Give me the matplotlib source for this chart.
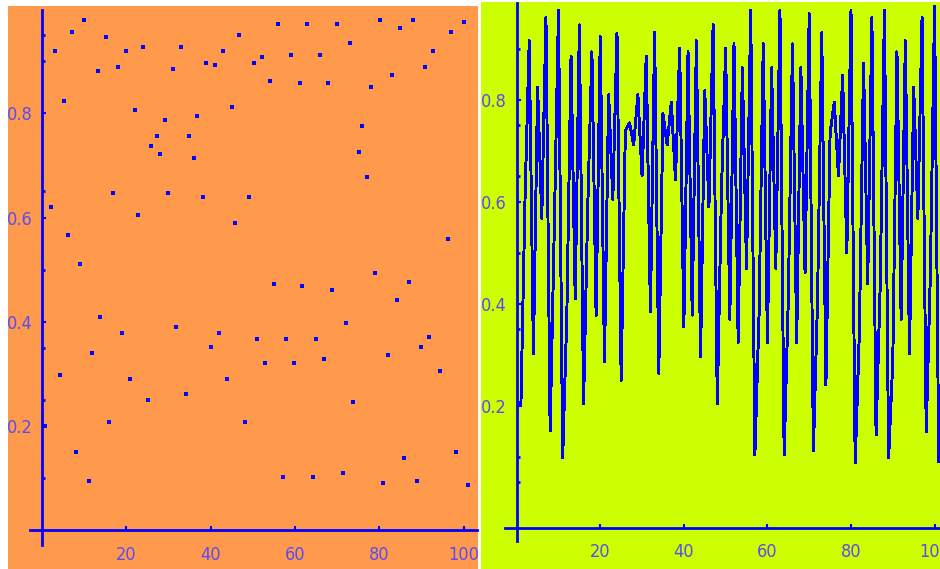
import matplotlib
matplotlib.use('Agg')
import matplotlib.pyplot as plt
from matplotlib.patches import Rectangle

# Datos del panel izquierdo (dispersión)
scatter_x = [9.96, 7.11, 15.18, 46.72, 3.08, 19.92, 23.95, 32.96, 42.92, 38.89,
             41.02, 50.27, 13.28, 18.02, 31.06, 5.22, 22.05, 45.06, 29.17, 36.76,
             27.27, 34.86, 25.85, 27.98, 36.04, 16.84, 29.88, 38.18, 49.09, 2.13,
             22.77, 45.77, 6.17, 9.01, 55.96, 62.84, 69.95, 80.15, 87.98, 100.07,
             84.89, 96.99, 73.04, 52.17, 59.05, 65.92, 92.72, 90.82, 83.0, 54.07,
             61.18, 67.82, 78.02, 75.88, 75.17, 77.07, 96.28, 78.97, 13.75, 18.97,
             31.78, 41.97, 50.98, 40.08, 11.86, 4.27, 20.87, 43.87, 34.15, 25.14,
             15.89, 48.14, 8.06, 11.15, 55.02, 61.66, 68.77, 87.03, 84.18, 72.09,
             57.86, 64.98, 91.77, 89.87, 82.05, 52.88, 59.76, 66.87, 94.38, 73.75,
             98.17, 85.84, 57.15, 64.26, 71.38, 80.86, 88.93, 101.02, 0.8]
scatter_y = [0.979, 0.956, 0.946, 0.950, 0.919, 0.919, 0.927, 0.927, 0.919, 0.896,
             0.893, 0.896, 0.881, 0.889, 0.885, 0.823, 0.806, 0.812, 0.787, 0.795,
             0.756, 0.756, 0.737, 0.722, 0.714, 0.647, 0.647, 0.639, 0.639, 0.620,
             0.605, 0.590, 0.567, 0.511, 0.971, 0.971, 0.971, 0.979, 0.979, 0.975,
             0.964, 0.956, 0.935, 0.908, 0.912, 0.912, 0.919, 0.889, 0.873, 0.862,
             0.858, 0.858, 0.850, 0.776, 0.726, 0.678, 0.559, 0.494, 0.409, 0.379,
             0.390, 0.379, 0.367, 0.352, 0.340, 0.298, 0.291, 0.291, 0.262, 0.250,
             0.208, 0.208, 0.151, 0.095, 0.473, 0.469, 0.461, 0.477, 0.442, 0.398,
             0.367, 0.367, 0.371, 0.352, 0.337, 0.321, 0.321, 0.329, 0.306, 0.246,
             0.151, 0.139, 0.103, 0.103, 0.110, 0.091, 0.095, 0.087, 0.200]

# Datos del panel derecho (línea)
line_x = list(range(1, 102))
line_y = [0.20, 0.61, 0.916, 0.302, 0.825, 0.568, 0.962, 0.151, 0.55, 0.976,
          0.098, 0.38, 0.886, 0.41, 0.947, 0.204, 0.59, 0.894, 0.378, 0.924,
          0.286, 0.81, 0.605, 0.931, 0.25, 0.74, 0.755, 0.712, 0.81, 0.651,
          0.886, 0.385, 0.932, 0.264, 0.773, 0.712, 0.795, 0.643, 0.901, 0.355,
          0.894, 0.378, 0.916, 0.296, 0.818, 0.59, 0.947, 0.204, 0.62, 0.901,
          0.37, 0.91, 0.324, 0.863, 0.469, 0.976, 0.104, 0.38, 0.91, 0.324,
          0.863, 0.47, 0.976, 0.104, 0.41, 0.91, 0.324, 0.863, 0.461, 0.969,
          0.112, 0.41, 0.932, 0.241, 0.735, 0.795, 0.651, 0.848, 0.5, 0.976,
          0.088, 0.343, 0.871, 0.44, 0.962, 0.143, 0.44, 0.976, 0.098, 0.287,
          0.894, 0.37, 0.916, 0.302, 0.825, 0.568, 0.962, 0.149, 0.461, 0.984,
          0.09]

x_ticks = [20, 40, 60, 80, 100]
y_ticks = [0.2, 0.4, 0.6, 0.8]
y_minor_left = [0.1, 0.25, 0.35, 0.5, 0.65, 0.9, 0.95]
y_minor_right = [0.05, 0.1, 0.35, 0.5, 0.65, 0.75, 0.9]

BLUE = '#0000ff'
LABEL_COLOR = '#5a4cf0'
W, H = 940, 569

fig = plt.figure(figsize=(W / 100, H / 100), dpi=100)
fig.patch.set_facecolor('white')


def px_rect(x0, y0, x1, y1, color):
    fig.add_artist(Rectangle((x0 / W, 1 - y1 / H), (x1 - x0) / W, (y1 - y0) / H,
                             transform=fig.transFigure, facecolor=color,
                             edgecolor='none', zorder=0))


def px_axes(x0, y0, x1, y1):
    ax = fig.add_axes([x0 / W, 1 - y1 / H, (x1 - x0) / W, (y1 - y0) / H])
    ax.set_facecolor('none')
    return ax


def style_axes(ax, y_axis_pos, minor, xpad):
    for side in ['top', 'right']:
        ax.spines[side].set_visible(False)
    ax.spines['left'].set_position(('data', 0))
    ax.spines['bottom'].set_position(('data', y_axis_pos))
    for side in ['left', 'bottom']:
        ax.spines[side].set_color(BLUE)
        ax.spines[side].set_linewidth(2.0)
    ax.set_xticks(x_ticks)
    ax.set_xticklabels([str(t) for t in x_ticks])
    ax.set_yticks(y_ticks)
    ax.set_yticklabels([f'{t:.1f}' for t in y_ticks])
    ax.set_yticks(minor, minor=True)
    ax.tick_params(direction='in', color=BLUE, length=3, width=1.5,
                   labelcolor=LABEL_COLOR)
    ax.tick_params(axis='y', which='minor', direction='in', color=BLUE,
                   length=2.5, width=2)
    ax.tick_params(axis='x', pad=xpad)
    ax.tick_params(axis='y', pad=7)
    for lbl in ax.get_xticklabels() + ax.get_yticklabels():
        lbl.set_fontsize(13)
        lbl.set_fontstretch('condensed')


# fondos
px_rect(8, 6, 478, 569, '#ff9a4d')
px_rect(481, 2, 940, 569, '#ccff00')

# panel izquierdo
ax1 = px_axes(30, 10, 477, 545)
ax1.plot(scatter_x, scatter_y, linestyle='none', marker='s', markersize=2.6,
         color=BLUE, markeredgewidth=0, antialiased=False)
ax1.set_xlim(-2.85, 103.15)
ax1.set_ylim(-0.028, 0.998)
style_axes(ax1, 0, y_minor_left, 11)

# panel derecho
ax2 = px_axes(505, 3, 940, 541)
ax2.plot(line_x, line_y, color=BLUE, linewidth=1.4, antialiased=False)
ax2.set_xlim(-2.8, 101.3)
ax2.set_ylim(-0.065, 0.99)
style_axes(ax2, -0.0386, y_minor_right, 11)

fig.savefig('out.png', dpi=100, facecolor=fig.get_facecolor())
plt.close(fig)
